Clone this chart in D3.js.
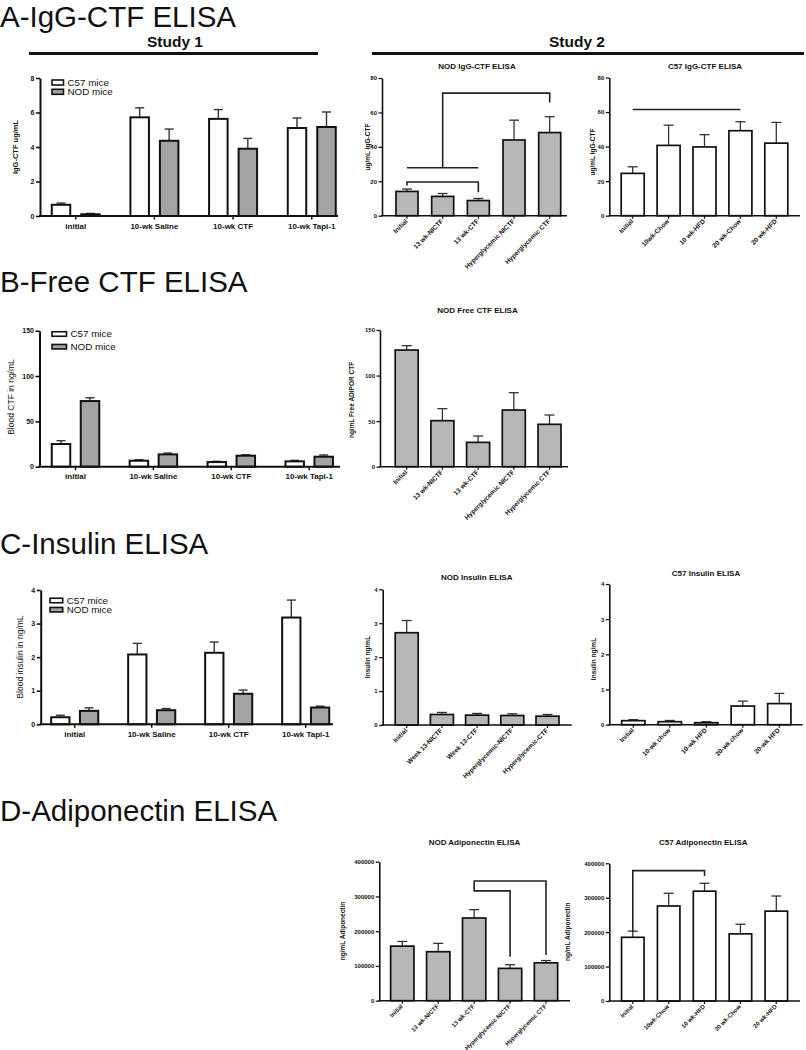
<!DOCTYPE html>
<html><head><meta charset="utf-8">
<script src="https://cdn.jsdelivr.net/npm/d3@7"></script>
<style>
body{margin:0;background:#fff}
svg{display:block}
text{font-family:"Liberation Sans",Arial,Helvetica,sans-serif;fill:#111}
</style>
</head><body>
<svg id="c" width="806" height="1050"></svg>
<script>
// ---------------- DATA ----------------
const study1Groups = ["initial", "10-wk Saline", "10-wk CTF", "10-wk Tapi-1"];
const study1Series = ["C57 mice", "NOD mice"];

// A - IgG-CTF, study 1 (ug/mL)
const iggS1C57 = [0.65, 5.72, 5.63, 5.10];
const iggS1C57Sem = [0.10, 0.55, 0.54, 0.58];
const iggS1NOD = [0.10, 4.36, 3.90, 5.16];
const iggS1NODSem = [0.05, 0.68, 0.60, 0.87];
const iggS1Ticks = [0, 2, 4, 6, 8];

// A - IgG-CTF, study 2
const nodIggCats = ["Initial", "13 wk-NICTF", "13 wk-CTF", "Hyperglycemic NICTF", "Hyperglycemic CTF"];
const nodIgg = [14.1, 11.2, 8.8, 44.0, 48.3];
const nodIggSem = [1.4, 1.7, 1.2, 11.5, 9.2];
const c57IggCats = ["Initial", "10wk-Chow", "10 wk-HFD", "20 wk-Chow", "20 wk-HFD"];
const c57Igg = [24.5, 40.7, 39.8, 49.2, 42.0];
const c57IggSem = [3.8, 11.7, 7.1, 5.2, 12.0];
const iggS2Ticks = [0, 20, 40, 60, 80];

// B - Free CTF, study 1 (ng/mL)
const freeS1C57 = [25.0, 6.6, 5.1, 5.9];
const freeS1C57Sem = [3.7, 1.1, 0.8, 1.1];
const freeS1NOD = [72.4, 13.6, 12.1, 11.0];
const freeS1NODSem = [3.6, 1.4, 1.1, 1.9];
const freeTicks = [0, 50, 100, 150];

// B - Free CTF, study 2
const nodFreeCats = ["Initial", "13 wk-NICTF", "13 wk-CTF", "Hyperglycemic NICTF", "Hyperglycemic CTF"];
const nodFree = [128.0, 50.5, 26.7, 62.2, 46.5];
const nodFreeSem = [4.8, 13.2, 7.0, 19.0, 10.2];

// C - Insulin, study 1 (ng/mL)
const insS1C57 = [0.21, 2.08, 2.13, 3.18];
const insS1C57Sem = [0.06, 0.33, 0.32, 0.52];
const insS1NOD = [0.40, 0.42, 0.91, 0.50];
const insS1NODSem = [0.09, 0.05, 0.11, 0.04];
const insTicks = [0, 1, 2, 3, 4];

// C - Insulin, study 2
const nodInsCats = ["Initial", "Week 13-NICTF", "Week 13-CTF", "Hyperglycemic-NICTF", "Hyperglycemic-CTF"];
const nodIns = [2.72, 0.31, 0.29, 0.28, 0.26];
const nodInsSem = [0.36, 0.06, 0.05, 0.05, 0.05];
const c57InsCats = ["Initial", "10-wk chow", "10-wk HFD", "20-wk chow", "20-wk HFD"];
const c57Ins = [0.114, 0.085, 0.057, 0.53, 0.60];
const c57InsSem = [0.03, 0.035, 0.028, 0.14, 0.29];

// D - Adiponectin (ng/mL)
const nodAdipoCats = ["Initial", "13 wk-NICTF", "13 wk-CTF", "Hyperglycemic NICTF", "Hyperglycemic CTF"];
const nodAdipo = [157000, 141000, 238000, 93000, 109000];
const nodAdipoSem = [13500, 24000, 24000, 10500, 6500];
const c57AdipoCats = ["Initial", "10wk-Chow", "10 wk-HFD", "20 wk-Chow", "20 wk-HFD"];
const c57Adipo = [185000, 276000, 319000, 195000, 261000];
const c57AdipoSem = [18000, 37000, 23000, 28000, 44000];
const adipoTicks = [0, 100000, 200000, 300000, 400000];

// significance brackets: [categoryIndex, value] vertices
const nodIggBrackets = [
  [[0, 17.6], [0, 19.6], [2, 19.6], [2, 13.6]],
  [[0, 27.9], [2, 27.9]],
  [[1, 27.9], [1, 71.2], [4, 71.2], [4, 65.7]]
];
const c57IggBrackets = [[[0, 61.5], [3, 61.5]]];
const nodAdipoBrackets = [[[3, 126600], [3, 316000], [2, 316000], [2, 344500], [4, 344500], [4, 131500]]];
const c57AdipoBrackets = [[[0, 201500], [0, 378800], [2, 378800], [2, 363000]]];

// ---------------- DRAWING ----------------
const svg = d3.select("#c");
const FONT = '"Liberation Sans",Arial,Helvetica,sans-serif';
const GRAY1 = "#a3a3a3", GRAY2 = "#b7b7b7";

function band(domain, c0, c1, bw) {
  const n = domain.length;
  const step = (c1 - c0) / (n - 1);
  const pi = 1 - bw / step;
  return d3.scaleBand().domain(domain).range([c0 - step / 2, c1 + step / 2])
    .paddingInner(pi).paddingOuter(pi / 2);
}

function yAxis(g, y, ticks, x0, opt) {
  const ax = g.append("g").attr("transform", `translate(${x0},0)`)
    .call(d3.axisLeft(y).tickValues(ticks).tickSizeOuter(0).tickSizeInner(opt.tick)
      .tickPadding(1.5).tickFormat(d3.format("d")));
  ax.select(".domain").attr("stroke", "#111").attr("stroke-width", opt.sw);
  ax.selectAll(".tick line").attr("stroke", "#111").attr("stroke-width", opt.sw * 0.8);
  ax.selectAll(".tick text").attr("font-family", FONT).attr("font-weight", "bold")
    .attr("font-size", opt.tfs).attr("fill", "#111");
}

function rotLabel(g, text, x, y, fs, bold) {
  g.append("text").attr("transform", `translate(${x + fs * 0.35},${y}) rotate(-90)`)
    .attr("text-anchor", "middle").attr("font-size", fs)
    .attr("font-weight", bold ? "bold" : "normal").text(text);
}

function errorBars(g, data, cx, y, cap, sw) {
  g.selectAll(null).data(data).join("line")
    .attr("x1", d => cx(d)).attr("x2", d => cx(d))
    .attr("y1", d => y(d.v)).attr("y2", d => y(d.v + d.e))
    .attr("stroke", "#333").attr("stroke-width", sw);
  g.selectAll(null).data(data).join("line")
    .attr("x1", d => cx(d) - cap / 2).attr("x2", d => cx(d) + cap / 2)
    .attr("y1", d => y(d.v + d.e)).attr("y2", d => y(d.v + d.e))
    .attr("stroke", "#333").attr("stroke-width", sw);
}

// Study 1 grouped panel
function groupedPanel(cfg) {
  const g = svg.append("g");
  const y = d3.scaleLinear().domain([0, d3.max(cfg.ticks)]).range([cfg.y0, cfg.yTop]);
  const d = cfg.pair;
  const x0 = band(study1Groups, cfg.c0, cfg.c1, 4 * d);
  const x1 = band(study1Series, d, 3 * d, cfg.bw);
  const rows = [];
  study1Groups.forEach((grp, i) => {
    rows.push({ g: grp, s: study1Series[0], v: cfg.c57[i], e: cfg.c57Sem[i], fill: "#fff" });
    rows.push({ g: grp, s: study1Series[1], v: cfg.nod[i], e: cfg.nodSem[i], fill: GRAY1 });
  });
  const cx = r => x0(r.g) + x1(r.s) + x1.bandwidth() / 2;
  errorBars(g, rows, cx, y, 9, 1.4);
  g.selectAll(null).data(rows).join("rect")
    .attr("x", r => x0(r.g) + x1(r.s)).attr("width", x1.bandwidth())
    .attr("y", r => y(r.v)).attr("height", r => y(0) - y(r.v))
    .attr("fill", r => r.fill).attr("stroke", "#111").attr("stroke-width", 2);
  // x axis
  g.append("line").attr("x1", cfg.ax - 1).attr("x2", cfg.xEnd).attr("y1", cfg.y0).attr("y2", cfg.y0)
    .attr("stroke", "#111").attr("stroke-width", 2);
  g.selectAll(null).data(study1Groups).join("line")
    .attr("x1", k => x0(k) + x0.bandwidth() / 2).attr("x2", k => x0(k) + x0.bandwidth() / 2)
    .attr("y1", cfg.y0).attr("y2", cfg.y0 + 3.5).attr("stroke", "#111").attr("stroke-width", 1.5);
  g.selectAll(null).data(study1Groups).join("text")
    .attr("x", k => x0(k) + x0.bandwidth() / 2).attr("y", cfg.y0 + 12.5)
    .attr("text-anchor", "middle").attr("font-size", 8).attr("font-weight", "bold").text(k => k);
  yAxis(g, y, cfg.ticks, cfg.ax, { sw: 2, tick: 4, tfs: 7 });
  rotLabel(g, cfg.ylabel, cfg.ylx, cfg.yly, cfg.ylfs, cfg.ylbold);
  // legend
  const L = cfg.legend;
  study1Series.forEach((s, i) => {
    g.append("rect").attr("x", L.x).attr("y", L.y + i * L.dy - L.h / 2).attr("width", L.w).attr("height", L.h)
      .attr("fill", i === 0 ? "#fff" : GRAY1).attr("stroke", "#111").attr("stroke-width", 1.6);
    g.append("text").attr("x", L.x + L.w + 4).attr("y", L.y + i * L.dy + 3.4)
      .attr("font-size", 9.8).text(s);
  });
}

// Study 2 single-series panel
function simplePanel(cfg) {
  const g = svg.append("g");
  const y = d3.scaleLinear().domain([0, d3.max(cfg.ticks)]).range([cfg.y0, cfg.yTop]);
  const x = band(cfg.cats, cfg.c0, cfg.c1, cfg.bw);
  const rows = cfg.cats.map((c, i) => ({ c, v: cfg.vals[i], e: cfg.sems[i] }));
  const cx = r => x(r.c) + x.bandwidth() / 2;
  errorBars(g, rows, cx, y, 10, 1.3);
  g.selectAll(null).data(rows).join("rect")
    .attr("x", r => x(r.c)).attr("width", x.bandwidth())
    .attr("y", r => y(r.v)).attr("height", r => y(0) - y(r.v))
    .attr("fill", cfg.fill).attr("stroke", "#111").attr("stroke-width", 1.7);
  // brackets
  const line = d3.line().x(p => x(cfg.cats[p[0]]) + x.bandwidth() / 2).y(p => y(p[1]));
  (cfg.brackets || []).forEach(b => {
    g.append("path").attr("d", line(b)).attr("fill", "none").attr("stroke", "#222").attr("stroke-width", 1.6);
  });
  // x axis
  g.append("line").attr("x1", cfg.ax - 0.8).attr("x2", cfg.xEnd).attr("y1", cfg.y0).attr("y2", cfg.y0)
    .attr("stroke", "#111").attr("stroke-width", 1.6);
  g.selectAll(null).data(cfg.cats).join("line")
    .attr("x1", k => x(k) + x.bandwidth() / 2).attr("x2", k => x(k) + x.bandwidth() / 2)
    .attr("y1", cfg.y0).attr("y2", cfg.y0 + 3).attr("stroke", "#111").attr("stroke-width", 1.2);
  g.selectAll(null).data(cfg.cats).join("text")
    .attr("transform", k => `translate(${x(k) + x.bandwidth() / 2 + 1},${cfg.y0 + 6}) rotate(-45)`)
    .attr("text-anchor", "end").attr("font-size", cfg.lfs || 6.5).attr("font-weight", "bold").text(k => k);
  yAxis(g, y, cfg.ticks, cfg.ax, { sw: 1.6, tick: 3.5, tfs: 6 });
  rotLabel(g, cfg.ylabel, cfg.ylx, cfg.yly, 6.5, true);
  g.append("text").attr("x", cfg.tx).attr("y", cfg.ty + 2.8).attr("text-anchor", "middle")
    .attr("font-size", 8).attr("font-weight", "bold").text(cfg.title);
}

// ---- headings ----
const headings = [["A-IgG-CTF ELISA", 26.5], ["B-Free CTF ELISA", 292], ["C-Insulin ELISA", 554], ["D-Adiponectin ELISA", 821]];
headings.forEach(h => svg.append("text").attr("x", 0).attr("y", h[1]).attr("font-size", 29.5).text(h[0]));
svg.append("text").attr("x", 175).attr("y", 47).attr("text-anchor", "middle").attr("font-size", 15.5)
  .attr("font-weight", "bold").text("Study 1");
svg.append("text").attr("x", 577).attr("y", 47).attr("text-anchor", "middle").attr("font-size", 15.5)
  .attr("font-weight", "bold").text("Study 2");
svg.append("line").attr("x1", 29).attr("x2", 318).attr("y1", 53.5).attr("y2", 53.5).attr("stroke", "#111").attr("stroke-width", 3);
svg.append("line").attr("x1", 372).attr("x2", 804).attr("y1", 53.5).attr("y2", 53.5).attr("stroke", "#111").attr("stroke-width", 3);

// ---- A ----
groupedPanel({
  c57: iggS1C57, c57Sem: iggS1C57Sem, nod: iggS1NOD, nodSem: iggS1NODSem, ticks: iggS1Ticks,
  y0: 216, yTop: 78, ax: 40, xEnd: 338, c0: 75.75, c1: 311.75, pair: 14.75, bw: 18.5,
  ylabel: "IgG-CTF ug/mL", ylx: 15, yly: 147, ylfs: 7.5, ylbold: true,
  legend: { x: 52, y: 82.5, dy: 9.3, w: 11.5, h: 5 }
});
simplePanel({
  cats: nodIggCats, vals: nodIgg, sems: nodIggSem, ticks: iggS2Ticks, fill: GRAY2,
  y0: 215.7, yTop: 78, ax: 382, xEnd: 567, c0: 407, c1: 549.7, bw: 22,
  brackets: nodIggBrackets, ylabel: "ug/mL IgG-CTF", ylx: 368, yly: 147,
  title: "NOD IgG-CTF ELISA", tx: 477, ty: 66
});
simplePanel({
  cats: c57IggCats, vals: c57Igg, sems: c57IggSem, ticks: iggS2Ticks, fill: "#fff",
  y0: 215.7, yTop: 77.5, ax: 609.3, xEnd: 800, c0: 632.7, c1: 776.3, bw: 23,
  brackets: c57IggBrackets, ylabel: "ug/mL IgG-CTF", ylx: 593, yly: 152,
  title: "C57 IgG-CTF ELISA", tx: 705, ty: 66
});

// ---- B ----
groupedPanel({
  c57: freeS1C57, c57Sem: freeS1C57Sem, nod: freeS1NOD, nodSem: freeS1NODSem, ticks: freeTicks,
  y0: 466.7, yTop: 330.7, ax: 39.5, xEnd: 340, c0: 75.5, c1: 309.2, pair: 14.5, bw: 18.5,
  ylabel: "Blood CTF in  ng/mL", ylx: 11.5, yly: 397, ylfs: 8.5, ylbold: false,
  legend: { x: 52, y: 334, dy: 12.7, w: 14.5, h: 4.5 }
});
simplePanel({
  cats: nodFreeCats, vals: nodFree, sems: nodFreeSem, ticks: freeTicks, fill: GRAY2,
  y0: 466.7, yTop: 330, ax: 380, xEnd: 568, c0: 406.7, c1: 549.5, bw: 23,
  ylabel: "ng/mL Free ADIPOR CTF", ylx: 351.7, yly: 400,
  title: "NOD Free CTF ELISA", tx: 477.5, ty: 310
});

// ---- C ----
groupedPanel({
  c57: insS1C57, c57Sem: insS1C57Sem, nod: insS1NOD, nodSem: insS1NODSem, ticks: insTicks,
  y0: 724.3, yTop: 590, ax: 40.7, xEnd: 333, c0: 74.7, c1: 305.7, pair: 14.4, bw: 18.3,
  ylabel: "Blood insulin in  ng/mL", ylx: 20, yly: 657, ylfs: 8.5, ylbold: false,
  legend: { x: 50, y: 600.5, dy: 9.2, w: 12.7, h: 4.5 }
});
simplePanel({
  cats: nodInsCats, vals: nodIns, sems: nodInsSem, ticks: insTicks, fill: GRAY2,
  y0: 725, yTop: 589.3, ax: 382.7, xEnd: 571.7, c0: 406.7, c1: 547.5, bw: 23,
  ylabel: "Insulin ng/mL", ylx: 367.3, yly: 657,
  title: "NOD Insulin ELISA", tx: 476.7, ty: 577.3
});
simplePanel({
  cats: c57InsCats, vals: c57Ins, sems: c57InsSem, ticks: insTicks, fill: "#fff",
  y0: 724.7, yTop: 584, ax: 609.3, xEnd: 802.7, c0: 633.3, c1: 779.3, bw: 23.3,
  ylabel: "Insulin ng/mL", ylx: 594, yly: 659,
  title: "C57 Insulin ELISA", tx: 706, ty: 572.7
});

// ---- D ----
simplePanel({
  cats: nodAdipoCats, vals: nodAdipo, sems: nodAdipoSem, ticks: adipoTicks, fill: GRAY2,
  y0: 1000.7, yTop: 861.7, ax: 379.3, xEnd: 570, c0: 402.3, c1: 546, bw: 23.3, lfs: 6,
  brackets: nodAdipoBrackets, ylabel: "ng/mL Adiponectin", ylx: 343, yly: 931,
  title: "NOD Adiponectin ELISA", tx: 474.5, ty: 842.3
});
simplePanel({
  cats: c57AdipoCats, vals: c57Adipo, sems: c57AdipoSem, ticks: adipoTicks, fill: "#fff",
  y0: 1001, yTop: 863.3, ax: 609.3, xEnd: 800, c0: 632.8, c1: 776.3, bw: 22.5, lfs: 6,
  brackets: c57AdipoBrackets, ylabel: "ng/mL Adiponectin", ylx: 567.3, yly: 931.7,
  title: "C57 Adiponectin ELISA", tx: 703.3, ty: 841.7
});
</script>
</body></html>
